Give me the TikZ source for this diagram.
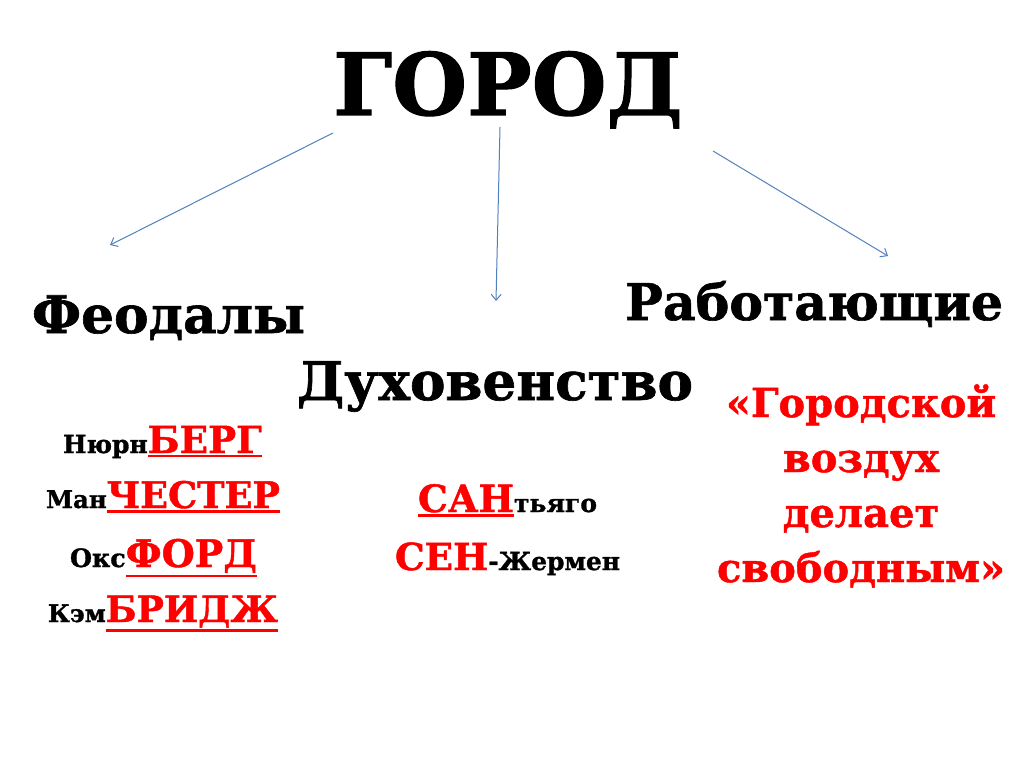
\documentclass[tikz,border=0pt]{standalone}
\usepackage{fontspec}
\setmainfont{DejaVu Serif}[BoldFeatures={FakeBold=1.2}]
\usetikzlibrary{arrows.meta}
\definecolor{arrowblue}{RGB}{79,129,189}
\definecolor{txtred}{RGB}{255,0,0}
\newcommand\redul[1]{\setbox0\hbox{#1}\rlap{\rule[\dimexpr-\dp0-4pt\relax]{\wd0}{2.5pt}}\box0}
\newcommand\fitw[2]{\resizebox{#1}{!}{#2}}
\newcommand\bigR[1]{{\fontsize{36}{36}\selectfont\color{txtred}#1}}
\newcommand\smB[1]{{\fontsize{24}{24}\selectfont #1}}
\begin{document}
\begin{tikzpicture}[x=1pt,y=-1pt,
  every node/.style={inner sep=0pt, outer sep=0pt, font=\bfseries},
  arr/.style={draw=arrowblue, line width=1pt, -{Straight Barb[length=6pt,width=10pt]}},
  quote/.style={anchor=base, text=txtred, font=\bfseries\fontsize{40}{40}\selectfont}]
\useasboundingbox[fill=white] (0,0) rectangle (1024,767);

\node[anchor=base west] (gorod) at (333,115) {\fitw{350pt}{\fontsize{100}{100}\selectfont ГОРОД}};

\node[anchor=base west] (feod) at (32,333) {\fitw{273pt}{\fontsize{50}{50}\selectfont Феодалы}};
\node[anchor=base west] (rab) at (625,320) {\fitw{378pt}{\fontsize{50}{50}\selectfont Работающие}};
\node[anchor=base west] (dux) at (297,400) {\fitw{396pt}{\fontsize{50}{50}\selectfont Духовенство}};

\coordinate (a1s) at (333,133);
\coordinate (a1e) at (110,245);
\coordinate (a2s) at (500,127);
\coordinate (a2e) at (496,301);
\coordinate (a3s) at (713,151);
\coordinate (a3e) at (888,256);
\draw[arr] (a1s) -- (a1e);
\draw[arr] (a2s) -- (a2e);
\draw[arr] (a3s) -- (a3e);

\node[anchor=base west] (nyurn) at (63,453) {\fitw{199pt}{\smB{Нюрн}\bigR{\redul{БЕРГ}}}};
\node[anchor=base west] (man) at (46,508) {\fitw{234pt}{\smB{Ман}\bigR{\redul{ЧЕСТЕР}}}};
\node[anchor=base west] (oks) at (70,567) {\fitw{187pt}{\smB{Окс}\bigR{\redul{ФОРД}}}};
\node[anchor=base west] (kem) at (48,622) {\fitw{230pt}{\smB{Кэм}\bigR{\redul{БРИДЖ}}}};

\node[anchor=base west] (san) at (418,512) {\fitw{179pt}{\bigR{\redul{САН}}\smB{тьяго}}};
\node[anchor=base west] (sen) at (395,570) {\fitw{225pt}{\bigR{СЕН}\smB{-Жермен}}};

\node[quote] (q1) at (861,417) {«Городской};
\node[quote] (q2) at (861,472) {воздух};
\node[quote] (q3) at (861,527) {делает};
\node[quote] (q4) at (861,582) {свободным»};
\end{tikzpicture}
\end{document}
